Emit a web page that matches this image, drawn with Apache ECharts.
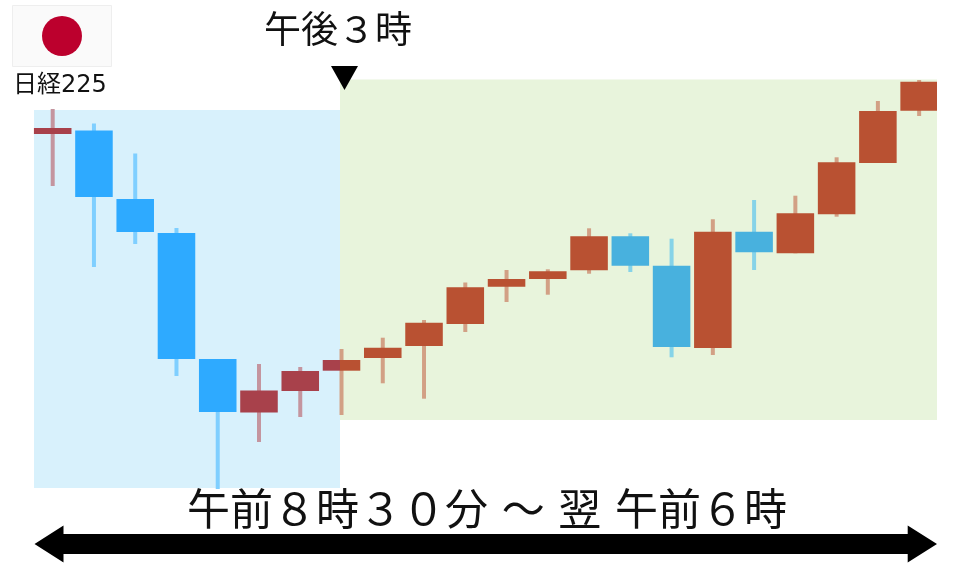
<!DOCTYPE html>
<html><head><meta charset="utf-8">
<style>html,body{margin:0;padding:0;background:#fff}#c{width:960px;height:567px}</style>
<script src="https://cdn.jsdelivr.net/npm/echarts@6/dist/echarts.min.js"></script>
</head><body><div id="c"></div>
<script>
// Candle values (chart units; the source has no price scale)
var opens  = [433,436.5,368,334,208,154.5,176,196.3,209,221,243,280.3,288,296.7,330.7,301.3,219,335.3,313.7,352.7,404,456.3];
var closes = [439,370,335,208,155,176.5,196,207,219.3,244.3,279.7,288,295.7,330.7,301.3,220,335.3,314.7,353.7,404.7,456,485.3];
var lows   = [381,300,323,191,78,125,150,152,183.7,168.3,235,265,272.3,293.3,295,209.7,212,297,313.7,350.3,404,451];
var highs  = [458,443.5,413.5,339,208,203,200,218,229.3,247,284.5,297,297.7,338.7,333.7,328.3,347.7,367,371.3,409.7,466,487];
// Session bands: first/last candle position and value range
var sessionStart = [-0.453, 6.963];
var sessionEnd   = [6.963, 21.433];
var sessionLow   = [79, 147];
var sessionHigh  = [457, 487.5];
var flagLabel = '日経225';
var pivotLabel = '午後３時';
var rangeLabel = '午前８時３０分 ～ 翌 午前６時';

var FONT = '"DejaVu Sans","Noto Sans CJK JP",sans-serif';
var bandFill = ['#D8F1FC', '#E8F4DC'];
var palette = [
  {up:'#A8414B', upWick:'#C4959F', down:'#2EAAFF', downWick:'#7FCFFF'},
  {up:'#B95132', upWick:'#D2A085', down:'#48B1DE', downWick:'#86D3E8'}
];
var candles = opens.map(function(o,i){return [i,o,closes[i],lows[i],highs[i]];});
var bands = sessionStart.map(function(s,i){return [s,sessionEnd[i],sessionLow[i],sessionHigh[i],i];});

function rect(x0,x1,y0,y1,fill){
  return {type:'rect',shape:{x:x0,y:y0,width:x1-x0,height:y1-y0},style:{fill:fill}};
}
function renderBand(p,api){
  var a=api.coord([api.value(0),api.value(3)]), b=api.coord([api.value(1),api.value(2)]);
  return rect(a[0],b[0],a[1],b[1],bandFill[api.value(4)]);
}
function renderCandle(p,api){
  var i=api.value(0),o=api.value(1),c=api.value(2),l=api.value(3),h=api.value(4);
  var split=api.coord([sessionEnd[0],0])[0], right=api.coord([sessionEnd[1],0])[0];
  var ctr=api.coord([i,0])[0], w=api.size([1,0])[0]*0.91;
  var up=c>o, top=api.coord([i,Math.max(o,c)])[1], bot=api.coord([i,Math.min(o,c)])[1];
  var hy=api.coord([i,h])[1], ly=api.coord([i,l])[1];
  var pal=palette[ctr<split?0:1];
  var kids=[rect(ctr-2,ctr+2,hy,ly,up?pal.upWick:pal.downWick)];
  var x0=ctr-w/2,x1=Math.min(ctr+w/2,right);
  function fillFor(pp){return up?pp.up:pp.down;}
  if(x0<split&&x1>split){
    kids.push(rect(x0,split,top,bot,fillFor(palette[0])));
    kids.push(rect(split,x1,top,bot,fillFor(palette[1])));
  }else{
    kids.push(rect(x0,x1,top,bot,fillFor(pal)));
  }
  return {type:'group',children:kids};
}
var chart=echarts.init(document.getElementById('c'),null,{renderer:'canvas',width:960,height:567});
chart.setOption({
  animation:false,
  backgroundColor:'#fff',
  grid:{left:32.07,top:0,width:907.7,height:567},
  xAxis:{type:'value',min:-0.5,max:21.5,show:false},
  yAxis:{type:'value',min:0,max:567,show:false},
  series:[
    {type:'custom',silent:true,clip:false,z:1,data:bands,renderItem:renderBand,encode:{x:[0,1],y:[2,3]}},
    {type:'custom',silent:true,clip:false,z:2,data:candles,renderItem:renderCandle,encode:{x:0,y:[1,2,3,4]}}
  ],
  graphic:[
    {type:'rect',shape:{x:12.5,y:5.5,width:99,height:61},style:{fill:'#FAFAFA',stroke:'#EEEEEE',lineWidth:1},z:5},
    {type:'circle',shape:{cx:62,cy:36,r:20},style:{fill:'#BC002D'},z:6},
    {type:'text',x:13,y:86,style:{text:flagLabel,font:'24px '+FONT,fill:'#111',verticalAlign:'middle'},z:6},
    {type:'text',x:264,y:33,style:{text:pivotLabel,font:'37px '+FONT,fill:'#111',verticalAlign:'middle'},z:6},
    {type:'polygon',shape:{points:[[331,66],[358,66],[344.5,90]]},style:{fill:'#000'},z:6},
    {type:'text',x:187,y:514,style:{text:rangeLabel,font:'43px '+FONT,fill:'#111',verticalAlign:'middle'},z:6},
    {type:'polygon',shape:{points:[[34.5,544],[63.5,525.5],[63.5,534],[907.7,534],[907.7,525.5],[937,544],[907.7,562.5],[907.7,554],[63.5,554],[63.5,562.5]]},style:{fill:'#000'},z:6}
  ]
});
</script></body></html>
